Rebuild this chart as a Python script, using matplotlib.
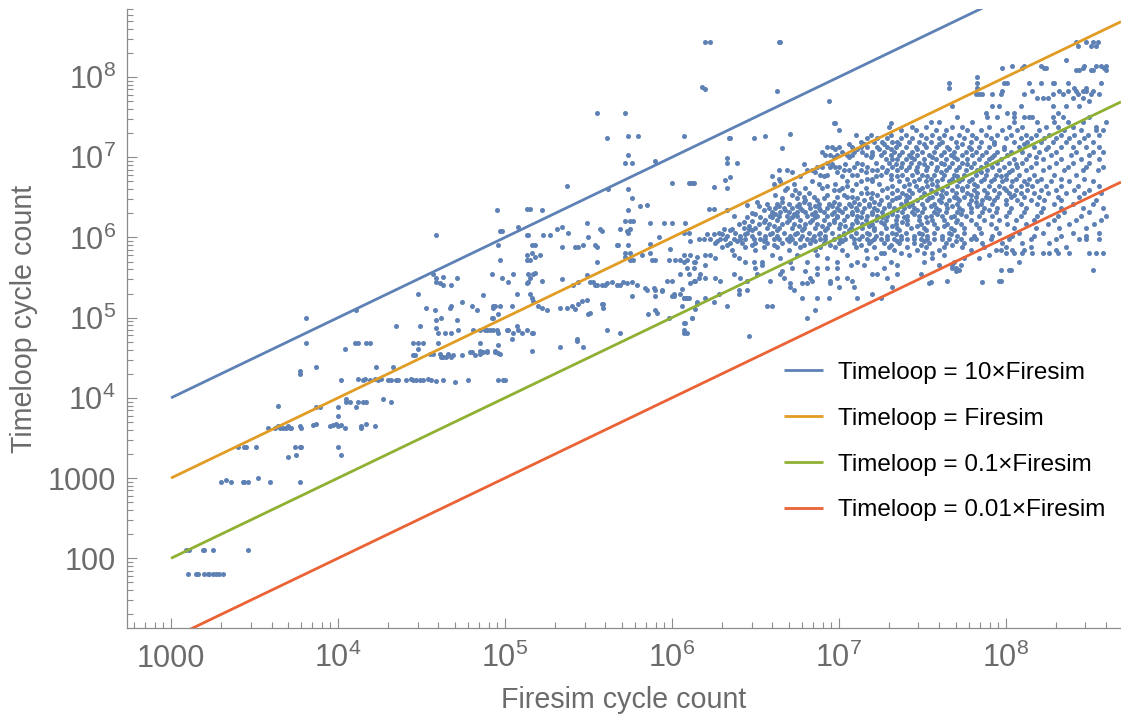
import numpy as np
import matplotlib.pyplot as plt
from matplotlib.ticker import FixedLocator, FuncFormatter, NullFormatter

plt.rcParams['font.family'] = ['Liberation Sans', 'DejaVu Sans']
plt.rcParams['mathtext.fontset'] = 'custom'
plt.rcParams['mathtext.rm'] = 'Liberation Sans'
plt.rcParams['mathtext.it'] = 'Liberation Sans:italic'
plt.rcParams['mathtext.bf'] = 'Liberation Sans:bold'

# (log10 Firesim cycles, log10 Timeloop cycles)
scattered_log10 = [
    (3.10, 1.81), (3.15, 1.81), (3.16, 1.81), (3.20, 1.81), (3.22, 1.81), (3.23, 1.81),
    (3.25, 1.81), (3.27, 1.81), (3.29, 1.81), (3.31, 1.81),
    (3.09, 2.10), (3.11, 2.10), (3.19, 2.10), (3.20, 2.10), (3.25, 2.10), (3.46, 2.10),
    (3.30, 2.95), (3.33, 2.97), (3.36, 2.95), (3.43, 2.95), (3.44, 2.95), (3.46, 2.95),
    (3.52, 3.00), (3.59, 2.95), (3.77, 2.95),
    (3.70, 3.26), (3.75, 3.29), (4.02, 3.29),
    (3.40, 3.39), (3.44, 3.39), (3.45, 3.39), (3.51, 3.39), (3.74, 3.39), (3.77, 3.39),
    (3.78, 3.39), (4.00, 3.39),
    (3.58, 3.63), (3.62, 3.63), (3.64, 3.65), (3.65, 3.63), (3.67, 3.63), (3.69, 3.63),
    (3.70, 3.65), (3.71, 3.63), (3.72, 3.63), (3.77, 3.65), (3.78, 3.63), (3.85, 3.66),
    (3.87, 3.68), (3.95, 3.65), (3.97, 3.66), (3.99, 3.67), (4.00, 3.65), (4.02, 3.66),
    (4.04, 3.62), (4.14, 3.65), (4.14, 3.62), (4.17, 3.67), (4.22, 3.65),
    (3.64, 3.90), (3.87, 3.89), (3.89, 3.89), (4.00, 3.89), (4.11, 3.89), (4.00, 3.77),
    (4.05, 3.99), (4.05, 3.95), (4.07, 3.95), (4.12, 3.95), (4.15, 3.95), (4.17, 3.95),
    (4.27, 3.99), (4.32, 3.95),
    (4.02, 4.22), (3.77, 4.34), (3.77, 4.30), (3.87, 4.38), (3.81, 4.69), (3.81, 5.00),
    (4.04, 4.61), (4.10, 4.69), (4.12, 4.69), (4.17, 4.69), (4.19, 4.69), (4.11, 5.10),
    (4.12, 4.24), (4.15, 4.22), (4.16, 4.23), (4.19, 4.22), (4.22, 4.23), (4.24, 4.22),
    (4.26, 4.24), (4.23, 4.38),
    (4.30, 4.22), (4.32, 4.22), (4.35, 4.22), (4.36, 4.22), (4.41, 4.22), (4.44, 4.23),
    (4.45, 4.22), (4.47, 4.22), (4.49, 4.22), (4.51, 4.22), (4.54, 4.23), (4.56, 4.22),
    (4.59, 4.21), (4.63, 4.22), (4.70, 4.20), (4.78, 4.22), (4.96, 4.22), (4.99, 4.22),
    (4.33, 4.38), (4.35, 4.90), (4.45, 4.69), (4.48, 4.69), (4.51, 4.69), (4.48, 4.61),
    (4.60, 4.69), (4.85, 4.69),
    (4.45, 4.54), (4.46, 4.54), (4.55, 4.55), (4.57, 4.55), (4.61, 4.55), (4.62, 4.51),
    (4.63, 4.51), (4.65, 4.51), (4.66, 4.55), (4.68, 4.51), (4.69, 4.54), (4.74, 4.53),
    (4.79, 4.57), (4.80, 4.57), (4.82, 4.54), (4.85, 4.55), (4.87, 4.57), (4.89, 4.57),
    (4.94, 4.57), (4.97, 4.55),
    (4.48, 5.30), (4.53, 5.12), (4.58, 5.10), (4.62, 5.00), (4.59, 4.97), (4.59, 4.87),
    (4.60, 4.81), (4.64, 4.81), (4.68, 4.81), (4.72, 4.84), (4.49, 4.89),
    (4.67, 5.12), (4.68, 5.15), (4.74, 5.20), (4.80, 5.15), (4.83, 5.10), (4.87, 5.28),
    (4.93, 5.12), (4.94, 5.15), (4.93, 5.00), (4.71, 4.97),
    (4.81, 4.84), (4.88, 4.84), (4.91, 4.84), (4.93, 4.84), (4.96, 4.81),
    (4.59, 5.45), (4.61, 5.43), (4.63, 5.41), (4.68, 5.41), (4.57, 5.54), (4.59, 5.49),
    (4.63, 5.51), (4.71, 5.49),
    (4.95, 6.34), (4.59, 6.03), (4.97, 6.08), (4.96, 5.90), (4.97, 5.72),
    (4.92, 5.54), (4.98, 5.49), (5.02, 5.44), (5.05, 5.54), (5.07, 5.29),
    (4.92, 5.00), (4.96, 5.05), (4.97, 5.15), (5.04, 5.15), (5.04, 4.74), (4.93, 5.14),
    (5.07, 4.90), (4.95, 4.84), (5.02, 4.84), (5.05, 4.81), (5.08, 4.84), (4.96, 4.66),
    (4.96, 4.56), (4.85, 4.84), (4.89, 4.85), (5.01, 4.85), (5.10, 4.81), (5.13, 4.85),
    (5.16, 4.81), (5.17, 4.81), (4.94, 4.59), (4.85, 4.59), (4.89, 4.59), (5.16, 4.59),
    (5.00, 4.22), (5.33, 4.64), (5.43, 4.71), (5.47, 4.64),
    (5.51, 5.06), (5.50, 5.05), (5.58, 5.17), (5.59, 5.12), (5.61, 4.84), (5.69, 4.81),
    (5.43, 4.74),
    (5.76, 5.27), (5.86, 5.05), (5.90, 5.10), (5.91, 5.06), (5.90, 5.27), (5.94, 5.34),
    (5.98, 5.00), (6.00, 5.27), (6.01, 5.27), (6.06, 5.36), (6.06, 5.15), (6.07, 5.25),
    (6.10, 5.25), (6.07, 4.93), (6.07, 4.81), (6.09, 4.81), (6.12, 5.00), (6.14, 5.11),
    (6.15, 5.17),
    (5.55, 7.55), (5.72, 7.55), (5.61, 7.24), (5.74, 7.26), (5.80, 7.26), (6.07, 7.26),
    (5.74, 7.03), (5.72, 6.93), (5.76, 6.93), (5.90, 6.95), (5.37, 6.64), (5.62, 6.61),
    (5.74, 6.61), (5.76, 6.49), (5.74, 6.34), (5.81, 6.39), (5.85, 6.41), (6.00, 6.68),
    (6.10, 6.68), (6.12, 6.68),
    (5.13, 6.36), (5.15, 6.36), (5.22, 6.34), (5.08, 6.13), (4.98, 6.08), (5.31, 6.10),
    (5.34, 6.13), (5.38, 6.05),
    (5.49, 6.18), (5.57, 6.11), (5.58, 6.08), (5.69, 6.10), (5.72, 6.20), (5.75, 6.20),
    (5.77, 6.20), (5.73, 6.08), (5.74, 6.05), (5.75, 6.11),
    (5.87, 6.18), (5.95, 6.18), (6.00, 6.18), (6.08, 6.18), (6.07, 6.05), (6.10, 6.05),
    (6.16, 5.98),
    (5.13, 6.03), (5.14, 6.03), (5.23, 6.03), (5.27, 6.03), (5.50, 6.00),
    (5.16, 5.90), (5.18, 5.90), (5.16, 5.81), (5.21, 5.78), (5.18, 5.75), (5.15, 5.72),
    (5.13, 5.72), (5.13, 5.78),
    (5.34, 5.88), (5.42, 5.88), (5.44, 5.88), (5.47, 5.90), (5.54, 5.90), (5.55, 5.88),
    (5.67, 5.90), (5.68, 5.90), (5.74, 5.91), (5.55, 5.69),
    (5.72, 5.81), (5.75, 5.81), (5.72, 5.75), (5.75, 5.72), (5.77, 5.72), (5.82, 5.78),
    (5.87, 5.92), (5.87, 5.80), (5.88, 5.72), (5.90, 5.72), (5.92, 6.00), (5.98, 5.72),
    (5.99, 5.86), (6.02, 5.72), (6.05, 5.72), (6.07, 5.69), (6.09, 5.72), (6.11, 5.95),
    (6.13, 5.69), (6.15, 5.75),
    (5.14, 5.55), (5.15, 5.50), (5.17, 5.55), (5.18, 5.56), (5.13, 5.43), (5.14, 5.44),
    (5.15, 5.30), (5.16, 5.25), (5.22, 5.46),
    (5.34, 5.48), (5.41, 5.41), (5.44, 5.45), (5.49, 5.53), (5.51, 5.45), (5.53, 5.44),
    (5.54, 5.41), (5.55, 5.41), (5.58, 5.41), (5.60, 5.41), (5.61, 5.43), (5.64, 5.44),
    (5.67, 5.41), (5.69, 5.41), (5.71, 5.44), (5.73, 5.43), (5.76, 5.44), (5.79, 5.41),
    (5.84, 5.37), (5.85, 5.35), (5.89, 5.37), (5.90, 5.34), (5.94, 5.33), (5.97, 5.46),
    (6.00, 5.46), (6.01, 5.30), (6.05, 5.30), (6.07, 5.25), (6.09, 5.25), (6.13, 5.46),
    (6.16, 5.50), (6.11, 5.43),
    (5.17, 5.21), (5.20, 5.15), (5.22, 5.12), (5.25, 5.10), (5.33, 5.12), (5.37, 5.12),
    (5.40, 5.14), (5.42, 5.11), (5.44, 5.17), (5.46, 5.21), (5.49, 5.22), (5.59, 5.17),
    (6.20, 8.44), (6.23, 8.44), (6.64, 8.44), (6.65, 8.44), (6.18, 7.88), (6.20, 7.85),
    (6.63, 7.83), (6.94, 7.70), (6.97, 7.43), (6.98, 7.43), (7.00, 7.34), (7.31, 7.43),
    (6.34, 7.24), (6.35, 7.24), (6.49, 7.24), (6.56, 7.26), (6.71, 7.29), (6.66, 7.11),
    (6.33, 6.99), (6.33, 6.93), (6.39, 6.93), (6.32, 6.72), (6.35, 6.75), (6.33, 6.62),
    (6.11, 6.68), (6.13, 6.68), (6.25, 6.63), (6.22, 6.36), (6.25, 6.36), (6.33, 6.34),
    (6.37, 6.27), (6.36, 6.11), (6.31, 6.10), (6.28, 6.06), (6.25, 6.04), (6.21, 6.04),
    (6.45, 6.40), (6.48, 6.30), (6.53, 6.25), (6.48, 6.21), (6.46, 6.11),
    (6.12, 5.00), (6.08, 4.93), (6.07, 4.84), (6.46, 4.77), (6.81, 5.00), (6.86, 5.10),
    (6.33, 5.15), (6.57, 5.15), (6.60, 5.15), (6.15, 5.19), (6.25, 5.19),
    (7.86, 5.44), (7.96, 5.46), (7.97, 5.59), (8.02, 5.59), (8.52, 5.59), (7.97, 5.46),
    (7.65, 5.46), (7.55, 5.44), (8.03, 5.59), (7.72, 5.59),
]

# dense part: (log10 Timeloop cycles, [log10 Firesim cycles ...])
dense_rows_log10 = [
    (8.44, [8.42, 8.48, 8.52, 8.55]),
    (8.39, [8.43, 8.51, 8.54]),
    (8.21, [8.36]),
    (8.14, [8.04, 8.11, 8.21, 8.47, 8.54, 8.57, 8.60]),
    (8.11, [7.98, 8.10, 8.23, 8.24, 8.46, 8.59]),
    (8.09, [8.42, 8.44, 8.51, 8.52, 8.60]),
    (8.00, [7.83]),
    (7.92, [7.66, 7.83, 7.99, 8.01, 8.14, 8.21, 8.28, 8.29, 8.37, 8.57]),
    (7.86, [7.66, 7.83, 8.41, 8.48]),
    (7.83, [7.98, 8.16, 8.32, 8.37, 8.42, 8.46, 8.48, 8.52]),
    (7.79, [7.82, 7.84, 7.86, 7.92, 7.97, 8.11, 8.28, 8.34, 8.43, 8.51, 8.56]),
    (7.74, [8.19, 8.22, 8.25, 8.40, 8.46]),
    (7.70, [8.50]),
    (7.64, [7.68, 7.92, 7.96, 8.09, 8.28, 8.36, 8.44]),
    (7.55, [7.88, 8.01, 8.05, 8.31]),
    (7.50, [7.71, 7.89, 7.95, 8.05, 8.11, 8.14, 8.16, 8.28, 8.34, 8.50]),
    (7.44, [7.55, 7.60, 7.80, 8.05, 8.19, 8.29, 8.37, 8.46, 8.60]),
    (7.38, [7.30, 7.44, 7.52, 7.68, 7.74, 7.90, 8.02, 8.10, 8.24, 8.31, 8.40, 8.54]),
    (7.34, [7.37, 7.46, 7.58, 7.64, 7.77, 7.85, 7.98, 8.07, 8.20, 8.35, 8.45, 8.54, 8.58]),
    (7.28, [7.10, 7.19, 7.31, 7.40, 7.49, 7.56, 7.63, 7.72, 7.80, 7.88, 7.95, 8.03, 8.12,
            8.18, 8.26, 8.33, 8.41, 8.49, 8.56]),
    (7.24, [7.17, 7.23, 7.29, 7.37, 7.44, 7.52, 7.60, 7.67, 7.75, 7.82, 7.91, 8.00, 8.09,
            8.15, 8.23, 8.30, 8.38, 8.47]),
    (7.19, [7.13, 7.21, 7.26, 7.32, 7.35, 7.42, 7.48, 7.55, 7.62, 7.70, 7.79, 7.85, 7.93,
            8.05, 8.13, 8.21, 8.28, 8.36, 8.44, 8.52]),
    (7.16, [7.06, 7.15, 7.27, 7.36, 7.51, 7.60, 7.74, 7.93, 8.11]),
    (7.13, [6.93, 6.96, 7.00, 7.08, 7.13, 7.17, 7.23, 7.29, 7.34, 7.40, 7.46, 7.52, 7.58,
            7.65, 7.71, 7.78, 7.84, 7.90, 7.99, 8.08, 8.17, 8.25, 8.33, 8.40, 8.48, 8.56]),
    (7.10, [6.98, 7.11, 7.24, 7.31, 7.47, 7.66, 7.79, 7.99, 8.24]),
    (7.07, [6.90, 7.02, 7.09, 7.14, 7.20, 7.27, 7.33, 7.38, 7.44, 7.50, 7.57, 7.63, 7.69,
            7.76, 7.82, 7.88, 7.95, 8.03, 8.10, 8.20, 8.30, 8.42, 8.52, 8.58]),
    (7.03, [6.92, 6.95, 6.99, 7.05, 7.08, 7.16, 7.20, 7.25, 7.31, 7.36, 7.42, 7.47, 7.54,
            7.61, 7.67, 7.74, 7.80, 7.86, 7.93, 8.01, 8.14, 8.27, 8.39, 8.50]),
    (7.00, [6.97, 7.06, 7.19, 7.43, 7.56, 7.69, 7.92, 8.18]),
    (6.98, [7.28, 7.32, 7.35, 7.40, 7.45, 7.51, 7.58, 7.64, 7.71, 7.77, 7.84, 7.90, 7.97,
            8.05, 8.12, 8.22, 8.33, 8.45, 8.56]),
    (6.93, [6.93, 7.11, 7.22, 7.30, 7.38, 7.43, 7.48, 7.55, 7.61, 7.68, 7.74, 7.81, 7.88,
            7.95, 8.02, 8.10, 8.18, 8.30, 8.40, 8.50]),
    (6.91, [6.79, 6.96, 7.04, 7.14, 7.34, 7.51, 7.63, 7.77, 8.06]),
    (6.88, [6.87, 6.90, 6.95, 6.98, 7.00, 7.09, 7.17, 7.26, 7.32, 7.37, 7.42, 7.47, 7.53,
            7.59, 7.66, 7.72, 7.79, 7.85, 7.92, 7.99, 8.07, 8.15, 8.26, 8.37, 8.48, 8.58]),
    (6.84, [6.64, 6.69, 6.81, 6.84, 7.03, 7.06, 7.13, 7.20, 7.23, 7.29, 7.35, 7.40, 7.46,
            7.52, 7.58, 7.64, 7.70, 7.76, 7.83, 7.89, 7.96, 8.04, 8.12, 8.22, 8.35, 8.46, 8.55]),
    (6.81, [6.72, 6.86, 6.99, 7.16, 7.28, 7.47, 7.61, 7.85, 8.02]),
    (6.78, [6.89, 6.93, 7.08, 7.11, 7.25, 7.31, 7.38, 7.44, 7.50, 7.57, 7.63, 7.69, 7.75,
            7.82, 7.88, 7.94, 8.00, 8.08, 8.17, 8.29, 8.42]),
    (6.76, [6.60, 6.77, 6.91, 7.02, 7.22, 7.35, 7.53, 7.71, 7.97]),
    (6.73, [6.64, 7.17, 7.20, 7.31, 7.41, 7.48, 7.55, 7.62, 7.68, 7.74, 7.80, 7.87, 7.93,
            8.00, 8.06, 8.14, 8.21, 8.33, 8.47]),
    (6.70, [6.65, 6.84, 7.05, 7.13, 7.20, 7.36, 7.45, 7.52, 7.59, 7.66, 7.72, 7.78, 7.85,
            7.91, 7.98, 8.04, 8.11, 8.19, 8.27, 8.38, 8.52]),
    (6.67, [6.61, 6.73, 6.88, 6.98, 7.10, 7.24, 7.42, 7.56, 7.81, 8.13]),
    (6.64, [6.93, 7.05, 7.32, 7.39, 7.46, 7.53, 7.59, 7.65, 7.71, 7.77, 7.83, 7.90, 7.96,
            8.03, 8.09, 8.16, 8.24, 8.33, 8.43, 8.56]),
    (6.62, [6.69, 6.80, 6.90, 7.02, 7.16, 7.29, 7.50, 7.74, 7.99]),
    (6.59, [6.68, 6.74, 6.97, 7.00, 7.08, 7.26, 7.35, 7.42, 7.48, 7.55, 7.62, 7.68, 7.74,
            7.81, 7.87, 7.93, 8.00, 8.06, 8.13, 8.21, 8.30, 8.41, 8.50]),
    (6.55, [6.76, 6.82, 7.13, 7.17, 7.20, 7.32, 7.38, 7.44, 7.51, 7.58, 7.64, 7.70, 7.77,
            7.83, 7.89, 7.96, 8.02, 8.09, 8.17, 8.25, 8.36, 8.47, 8.57]),
    (6.53, [6.62, 6.72, 6.93, 7.03, 7.23, 7.40, 7.61, 7.79, 8.05]),
    (6.51, [6.79, 6.85, 6.99, 7.05, 7.08, 7.29, 7.36, 7.42, 7.49, 7.56, 7.62, 7.69, 7.75,
            7.82, 7.88, 7.95, 8.03, 8.11, 8.20, 8.31, 8.44]),
    (6.49, [6.66, 6.75, 6.91, 7.11, 7.19, 7.34, 7.54, 7.71, 7.90]),
    (6.47, [6.80, 6.87, 7.15, 7.25, 7.32, 7.40, 7.47, 7.53, 7.60, 7.66, 7.72, 7.79, 7.86,
            7.93, 8.00, 8.07, 8.15, 8.23, 8.33, 8.54]),
    (6.44, [6.51, 6.66, 6.79, 6.97, 7.09, 7.21, 7.40, 7.61, 7.82]),
    (6.42, [6.57, 6.63, 6.70, 6.76, 6.82, 6.88, 6.94, 7.00, 7.06, 7.12, 7.18, 7.24, 7.30,
            7.37, 7.44, 7.50, 7.57, 7.64, 7.71, 7.78, 7.85, 7.92, 8.00, 8.09, 8.19, 8.29,
            8.40, 8.52]),
    (6.39, [6.52, 6.64, 6.75, 6.86, 6.96, 7.07, 7.18, 7.30, 7.42, 7.55, 7.68, 7.83]),
    (6.37, [6.58, 6.62, 6.67, 6.72, 6.77, 6.83, 6.88, 6.93, 6.99, 7.04, 7.10, 7.15, 7.21,
            7.27, 7.33, 7.39, 7.45, 7.51, 7.58, 7.65, 7.72, 7.79, 7.87, 7.95, 8.03, 8.12,
            8.22, 8.33, 8.46, 8.58]),
    (6.34, [6.55, 6.68, 6.78, 6.89, 7.00, 7.11, 7.23, 7.35, 7.47, 7.60, 7.74, 7.90]),
    (6.32, [6.60, 6.65, 6.70, 6.75, 6.80, 6.86, 6.91, 6.97, 7.02, 7.08, 7.14, 7.20, 7.26,
            7.32, 7.38, 7.44, 7.50, 7.57, 7.64, 7.71, 7.79, 7.86, 7.94, 8.02, 8.11, 8.21,
            8.35, 8.50]),
    (6.29, [6.50, 6.62, 6.73, 6.84, 6.96, 7.08, 7.20, 7.32, 7.45, 7.59, 7.73]),
    (6.27, [6.59, 6.64, 6.69, 6.75, 6.81, 6.87, 6.93, 6.99, 7.05, 7.11, 7.17, 7.23, 7.29,
            7.35, 7.41, 7.48, 7.55, 7.62, 7.69, 7.76, 7.84, 7.92, 8.00, 8.09, 8.19, 8.31,
            8.45, 8.60]),
    (6.25, [6.45, 6.60, 6.72, 6.86, 6.99, 7.13, 7.26, 7.39, 7.52, 7.67]),
    (6.22, [6.56, 6.63, 6.70, 6.77, 6.84, 6.91, 6.97, 7.03, 7.10, 7.16, 7.22, 7.28, 7.34,
            7.41, 7.48, 7.56, 7.63, 7.71, 7.79, 7.87, 7.96, 8.06, 8.17, 8.29, 8.42, 8.57]),
    (6.19, [6.43, 6.55, 6.69, 6.83, 6.97, 7.11, 7.25, 7.38, 7.53, 7.70]),
    (6.17, [6.40, 6.52, 6.58, 6.66, 6.73, 6.80, 6.87, 6.94, 7.01, 7.08, 7.14, 7.20, 7.27,
            7.34, 7.41, 7.49, 7.57, 7.65, 7.73, 7.82, 7.91, 8.01, 8.12, 8.25, 8.38, 8.53]),
    (6.14, [6.46, 6.61, 6.76, 6.90, 7.04, 7.18, 7.32, 7.47, 7.63]),
    (6.12, [6.43, 6.50, 6.57, 6.64, 6.72, 6.79, 6.86, 6.93, 7.00, 7.07, 7.14, 7.21, 7.28,
            7.35, 7.43, 7.51, 7.59, 7.67, 7.75, 7.84, 7.94, 8.05, 8.18, 8.32, 8.48]),
    (6.09, [6.35, 6.48, 6.63, 6.78, 6.92, 7.06, 7.21, 7.36, 7.52, 7.69]),
    (6.06, [6.38, 6.45, 6.52, 6.60, 6.67, 6.75, 6.82, 6.89, 6.96, 7.03, 7.10, 7.17, 7.25,
            7.32, 7.40, 7.48, 7.57, 7.66, 7.75, 7.85, 7.96, 8.08, 8.22, 8.40, 8.56]),
    (6.04, [6.30, 6.44, 6.59, 6.74, 6.88, 7.03, 7.18, 7.34, 7.50, 7.67]),
    (6.02, [6.33, 6.41, 6.48, 6.56, 6.63, 6.71, 6.78, 6.85, 6.92, 7.00, 7.07, 7.14, 7.22,
            7.29, 7.37, 7.45, 7.53, 7.62, 7.71, 7.81, 7.92, 8.04, 8.17, 8.33, 8.48]),
    (5.98, [6.19, 6.23, 6.29, 6.32, 6.37, 6.41, 6.44, 6.49, 6.53, 6.56, 6.61, 6.64, 6.69,
            6.72, 6.77, 6.81, 6.84, 6.89, 6.92, 6.97, 7.01, 7.04, 7.09, 7.12, 7.17, 7.21,
            7.25, 7.29, 7.33, 7.37, 7.41, 7.45, 7.49, 7.53, 7.57, 7.62, 7.66, 7.73, 7.79,
            7.82, 7.91, 8.02, 8.15, 8.30, 8.44, 8.48, 8.56]),
    (5.96, [6.27, 6.39, 6.55, 6.70, 6.86, 7.02, 7.19, 7.35, 7.51, 7.70]),
    (5.93, [6.26, 6.35, 6.42, 6.50, 6.57, 6.66, 6.74, 6.83, 6.91, 7.00, 7.09, 7.18, 7.27,
            7.36, 7.45, 7.54, 7.64, 7.75, 7.86, 7.98, 8.10, 8.26]),
    (5.91, [6.33, 6.48, 6.61, 6.79, 6.95, 7.13, 7.31, 7.49, 7.68]),
    (5.88, [6.30, 6.44, 6.55, 6.63, 6.77, 6.89, 6.98, 7.10, 7.21, 7.30, 7.41, 7.52, 7.63,
            7.74, 7.87, 8.00, 8.15, 8.36]),
    (5.84, [6.36, 6.50, 6.70, 6.86, 7.02, 7.16, 7.33, 7.47, 7.60, 7.79, 7.94, 7.97, 8.04,
            8.11, 8.30]),
    (5.81, [7.25, 7.27, 7.37, 7.51, 7.56, 8.00, 8.05, 8.10, 8.16, 8.22, 8.26, 8.31, 8.38,
            8.50, 8.54, 8.58]),
    (5.78, [6.07, 6.11, 6.20, 6.23, 6.37, 6.60, 6.75, 6.87, 7.05, 7.42, 7.63, 7.90]),
    (5.74, [6.26, 6.40, 6.65, 6.93, 7.17, 7.22, 7.56, 7.75, 7.84]),
    (5.70, [6.14, 6.44, 6.49, 6.54, 6.71, 6.81, 6.99, 7.11, 7.31, 7.51, 7.69, 8.08]),
    (5.66, [6.20, 6.54, 7.07, 7.15, 7.35, 7.60, 7.68, 7.73]),
    (5.62, [6.09, 6.13, 6.50, 6.72, 6.87, 6.93, 6.99, 7.27, 7.68, 7.70]),
    (5.58, [6.66, 6.80, 7.70]),
    (5.55, [6.05, 6.10, 6.17, 6.37, 6.51, 6.65, 6.87, 7.20, 7.23, 7.35, 7.49]),
    (5.50, [6.20, 6.26, 6.41, 6.67, 6.83, 6.99, 7.05, 7.29]),
    (5.46, [6.14, 6.29, 6.45, 6.59, 6.84, 6.95, 7.08]),
    (5.43, [6.71, 6.78, 6.81, 6.95, 7.54]),
    (5.38, [6.71, 7.00, 7.09, 7.32]),
    (5.34, [6.40, 6.45, 6.73]),
    (5.30, [6.28, 6.40, 7.20]),
    (5.24, [6.08, 6.20, 6.78, 6.87, 6.94, 7.11, 7.25]),
]

ratios = [10, 1, 0.1, 0.01]
line_labels = ['Timeloop = 10×Firesim', 'Timeloop = Firesim',
               'Timeloop = 0.1×Firesim', 'Timeloop = 0.01×Firesim']
line_colors = ['#5E81B5', '#E19C24', '#8FB032', '#EB6235']
line_x = [1000, 4.9e8]

fx = [10 ** a for a, b in scattered_log10]
fy = [10 ** b for a, b in scattered_log10]
for ly, xs in dense_rows_log10:
    for a in xs:
        fx.append(10 ** a)
        fy.append(10 ** ly)

fig = plt.figure(figsize=(11.21, 7.14), dpi=100)
ax = fig.add_axes([0.1133, 0.1204, 0.8867, 0.8670])

ax.scatter(fx, fy, s=13, c='#5E81B5', linewidths=0, zorder=2)
for r, col, lab in zip(ratios, line_colors, line_labels):
    ax.plot(line_x, [r * v for v in line_x], color=col, lw=2.0, label=lab,
            zorder=3, solid_capstyle='butt')

ax.set_xscale('log')
ax.set_yscale('log')
ax.set_xlim(545, 4.9e8)
ax.set_ylim(13.5, 7.05e8)


def fmt(v, pos):
    e = int(round(np.log10(v)))
    if e == 2:
        return '100'
    if e == 3:
        return '1000'
    return '$10^{%d}$' % e


gray = '#6b6b6b'
axis_gray = '#8c8c8c'
ax.xaxis.set_major_locator(FixedLocator([10.0 ** k for k in range(3, 9)]))
ax.yaxis.set_major_locator(FixedLocator([10.0 ** k for k in range(2, 9)]))
ax.xaxis.set_minor_locator(FixedLocator([m * 10.0 ** k for k in range(2, 9) for m in range(2, 10)]))
ax.yaxis.set_minor_locator(FixedLocator([m * 10.0 ** k for k in range(1, 9) for m in range(2, 10)]))
ax.xaxis.set_major_formatter(FuncFormatter(fmt))
ax.yaxis.set_major_formatter(FuncFormatter(fmt))
ax.xaxis.set_minor_formatter(NullFormatter())
ax.yaxis.set_minor_formatter(NullFormatter())

ax.tick_params(which='both', direction='in', color=axis_gray, width=0.8,
               labelcolor=gray, labelsize=22)
ax.tick_params(which='major', length=7.5)
ax.tick_params(which='minor', length=4.2)
ax.tick_params(axis='x', which='major', pad=28)
ax.tick_params(axis='y', which='major', pad=8)
for lbl in ax.get_xticklabels():
    lbl.set_verticalalignment('baseline')

for s in ['top', 'right']:
    ax.spines[s].set_visible(False)
for s in ['left', 'bottom']:
    ax.spines[s].set_color(axis_gray)
    ax.spines[s].set_linewidth(0.9)

ax.set_xlabel('Firesim cycle count', fontsize=20.6, color=gray, labelpad=9)
ax.set_ylabel('Timeloop cycle count', fontsize=20.6, color=gray, labelpad=7)

ax.legend(loc='upper left', bbox_to_anchor=(0.661, 0.430), frameon=False,
          fontsize=17.5, handlelength=1.6, handletextpad=0.6, labelspacing=0.98,
          borderpad=0, borderaxespad=0)

plt.savefig('out.png', dpi=100)
